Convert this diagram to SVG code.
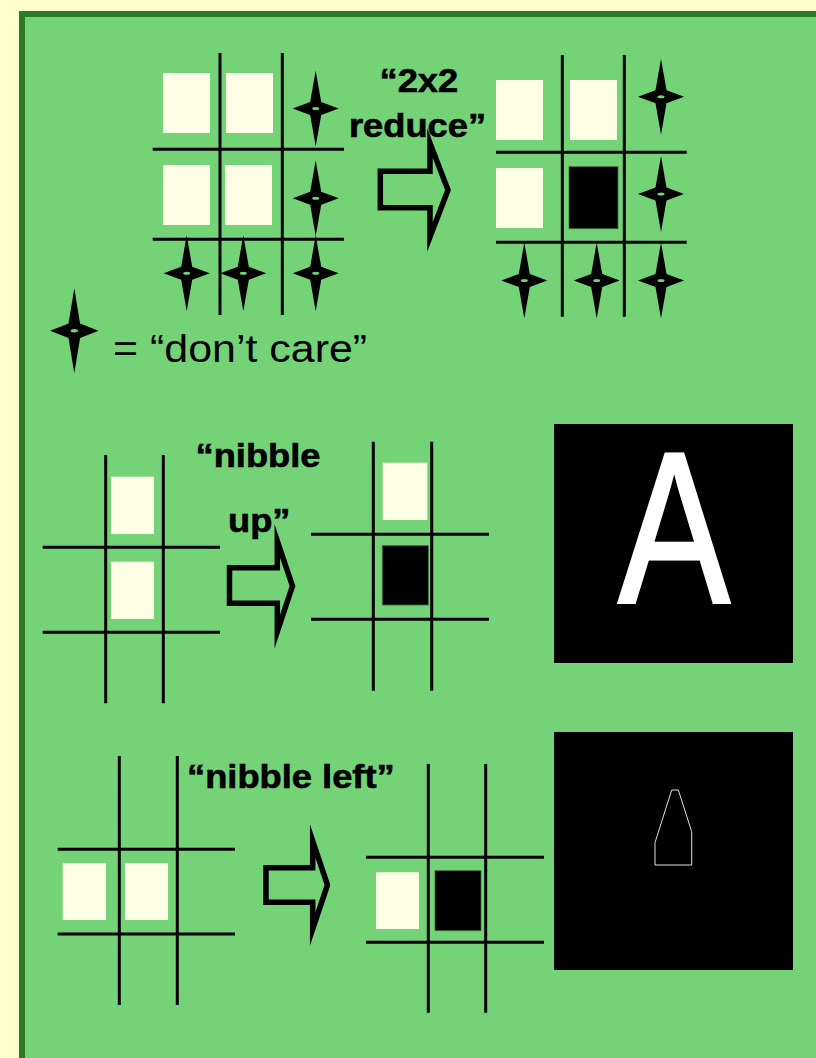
<svg xmlns="http://www.w3.org/2000/svg" width="816" height="1058" viewBox="0 0 816 1058">
<style>
.grid{stroke:#000;stroke-width:3;fill:none}
.w{fill:#FFFFE6}
.b{fill:#000;stroke:#3a6a3a;stroke-width:0.8}
.arrow{fill:none;stroke:#000;stroke-width:5.5;stroke-miterlimit:20}
.lbl{font-family:"Liberation Sans",Arial,sans-serif;font-weight:bold;font-size:33px;fill:#000;stroke:#000;stroke-width:0.6}
.txt{font-family:"Liberation Sans",Arial,sans-serif;font-size:38px;fill:#000}
</style>
<defs>
<g id="star">
<polygon points="0,-38 5.5,-6.5 23,0 5.5,6.5 0,38 -5.5,6.5 -23,0 -5.5,-6.5" fill="#000"/>
<ellipse cx="0" cy="0" rx="3.5" ry="1.5" fill="#74D277"/>
</g>
</defs>
<rect x="0" y="0" width="816" height="1058" fill="#FFFFCC"/>
<rect id="panel" x="22" y="14" width="797" height="1060" fill="#74D277" stroke="#2B7A2B" stroke-width="6"/>

<g id="grid-2x2-before">
<path class="grid" d="M220,53V315M282.3,53V315M152.7,149.3H344M152.7,239.3H344"/>
<rect class="w" x="163" y="73" width="47" height="60"/>
<rect class="w" x="226" y="73" width="47" height="60"/>
<rect class="w" x="163" y="165" width="47" height="60"/>
<rect class="w" x="225" y="165" width="47" height="60"/>
<use href="#star" x="315.7" y="108.5"/>
<use href="#star" x="315.7" y="198.3"/>
<use href="#star" x="186.7" y="273.3"/>
<use href="#star" x="243.3" y="273.3"/>
<use href="#star" x="315.7" y="273.3"/>
</g>

<g id="label-2x2">
<text class="lbl" transform="translate(379.5,91.7) scale(1.1,1)">“2x2</text>
<text class="lbl" transform="translate(349,136.7) scale(1.1,1)">reduce”</text>
</g>

<g id="grid-2x2-after">
<path class="grid" d="M562.3,55V316.7M624.3,55V316.7M496,152.3H686.7M496,242.3H686.7"/>
<rect class="w" x="496" y="80" width="47" height="60"/>
<rect class="w" x="570" y="80" width="47" height="60"/>
<rect class="w" x="496" y="168" width="47" height="60"/>
<rect class="b" x="569" y="166.7" width="49" height="62"/>
<use href="#star" x="661" y="96.7"/>
<use href="#star" x="661" y="194"/>
<use href="#star" x="524.3" y="280.5"/>
<use href="#star" x="596.7" y="280.5"/>
<use href="#star" x="661" y="280.5"/>
</g>

<g id="legend">
<g transform="translate(74.3,330.7) scale(1.05,1.12)"><use href="#star"/></g>
<text class="txt" transform="translate(113,361.7) scale(1.13,1)">= “don’t care”</text>
</g>

<g id="grid-up-before">
<path class="grid" d="M105.7,455V703.3M163.3,455V703.3M42.7,547.3H220M42.7,632.3H220"/>
<rect class="w" x="111" y="476.7" width="43" height="57.3"/>
<rect class="w" x="111" y="561.7" width="43" height="57.3"/>
</g>

<g id="label-up">
<text class="lbl" transform="translate(195.5,466.7) scale(1.1,1)">“nibble</text>
<text class="lbl" transform="translate(228,531.5) scale(1.1,1)">up”</text>
</g>

<g id="grid-up-after">
<path class="grid" d="M373.3,441.7V690.7M431.7,441.7V690.7M311,534.3H489M311,619.3H489"/>
<rect class="w" x="382.7" y="462.7" width="44.6" height="57.3"/>
<rect class="b" x="382.3" y="545.7" width="46" height="59.3"/>
</g>

<g id="image-A">
<rect x="554" y="424" width="239" height="239" fill="#000"/>
<text x="0" y="0" transform="translate(674,602) scale(0.775,1)" text-anchor="middle" font-family="Liberation Sans, Arial, sans-serif" font-size="216" fill="#fff" stroke="#fff" stroke-width="3" stroke-linejoin="miter">A</text>
</g>

<g id="grid-left-before">
<path class="grid" d="M119.3,756V1005M177.3,756V1005M57.7,849.3H235M57.7,934H235"/>
<rect class="w" x="62.7" y="863.3" width="43.3" height="56.7"/>
<rect class="w" x="125" y="863.3" width="43" height="56.7"/>
</g>

<g id="label-left">
<text class="lbl" transform="translate(187,788.3) scale(1.1,1)">“nibble left”</text>
</g>

<g id="grid-left-after">
<path class="grid" d="M428.3,764V1012.7M485.7,764V1012.7M366,857.3H544M366,942.3H544"/>
<rect class="w" x="376" y="872.3" width="43" height="56.7"/>
<rect class="b" x="435" y="870.7" width="46" height="60"/>
</g>

<g id="image-outline">
<rect x="554" y="732" width="239" height="238" fill="#000"/>
<polygon points="671.7,790 678.3,790 691.7,831.7 691.7,865 655,865 655,842.7" fill="none" stroke="#e0e0e0" stroke-width="1"/>
</g>

<g id="connectors">
<polygon class="arrow" points="380.3,171.3 430,171.3 430,143 448,190 430,237 430,207.7 380.3,207.7"/>
<polygon class="arrow" points="229.5,567.7 277.3,567.7 277.3,541 292.5,586 277.3,631.5 277.3,603.3 229.5,603.3"/>
<polygon class="arrow" points="266,867.7 312.7,867.7 312.7,841 327.5,885 312.7,929 312.7,902.3 266,902.3"/>
</g>
</svg>
